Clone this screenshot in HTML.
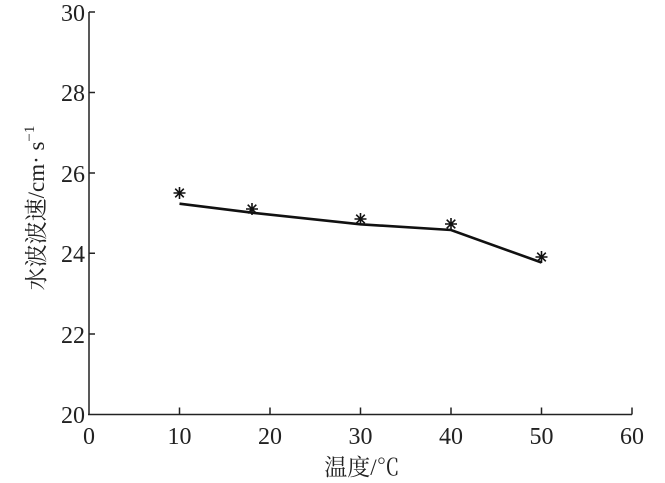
<!DOCTYPE html>
<html><head><meta charset="utf-8"><style>body{margin:0;background:#fff}svg{display:block}</style></head><body>
<svg width="665" height="483" viewBox="0 0 665 483" xmlns="http://www.w3.org/2000/svg" font-family="'Liberation Serif','Noto Serif CJK SC',serif" fill="#222">
<g stroke="#222" stroke-width="1.5" fill="none">
<line x1="89" y1="12" x2="89" y2="414.5"/>
<line x1="88" y1="414.5" x2="632" y2="414.5"/>
<path d="M89 12h6M89 92.5h6M89 173h6M89 253.3h6M89 334h6M179.5 414.5v-7M270 414.5v-7M360.5 414.5v-7M451 414.5v-7M541.5 414.5v-7M632 414.5v-7"/>
</g>
<polyline points="179.5,203.7 252,212.7 360.5,224.3 451,230 541.5,262.5" fill="none" stroke="#111" stroke-width="2.6"/>
<g stroke="#111" stroke-width="1.6">
<g transform="translate(179.5,193)"><path d="M0-6V6M-6 0H6M-4.3-4.3L4.3 4.3M-4.3 4.3L4.3-4.3"/></g>
<g transform="translate(252,209)"><path d="M0-6V6M-6 0H6M-4.3-4.3L4.3 4.3M-4.3 4.3L4.3-4.3"/></g>
<g transform="translate(360.5,219)"><path d="M0-6V6M-6 0H6M-4.3-4.3L4.3 4.3M-4.3 4.3L4.3-4.3"/></g>
<g transform="translate(451,224)"><path d="M0-6V6M-6 0H6M-4.3-4.3L4.3 4.3M-4.3 4.3L4.3-4.3"/></g>
<g transform="translate(541.5,257)"><path d="M0-6V6M-6 0H6M-4.3-4.3L4.3 4.3M-4.3 4.3L4.3-4.3"/></g>
</g>
<g font-size="24" text-anchor="end">
<text x="85" y="21">30</text><text x="85" y="101">28</text><text x="85" y="182">26</text>
<text x="85" y="262">24</text><text x="85" y="343">22</text><text x="85" y="423">20</text>
</g>
<g font-size="24" text-anchor="middle">
<text x="89" y="444">0</text><text x="179.5" y="444">10</text><text x="270" y="444">20</text>
<text x="360.5" y="444">30</text><text x="451" y="444">40</text><text x="541.5" y="444">50</text><text x="632" y="444">60</text>
<text x="362" y="475" font-size="23">温度/℃</text>
</g>
<text transform="translate(44,208) rotate(-90)" font-size="23" text-anchor="middle">水波波速/cm· s<tspan dy="-10" font-size="15">−1</tspan></text>
</svg>
</body></html>
